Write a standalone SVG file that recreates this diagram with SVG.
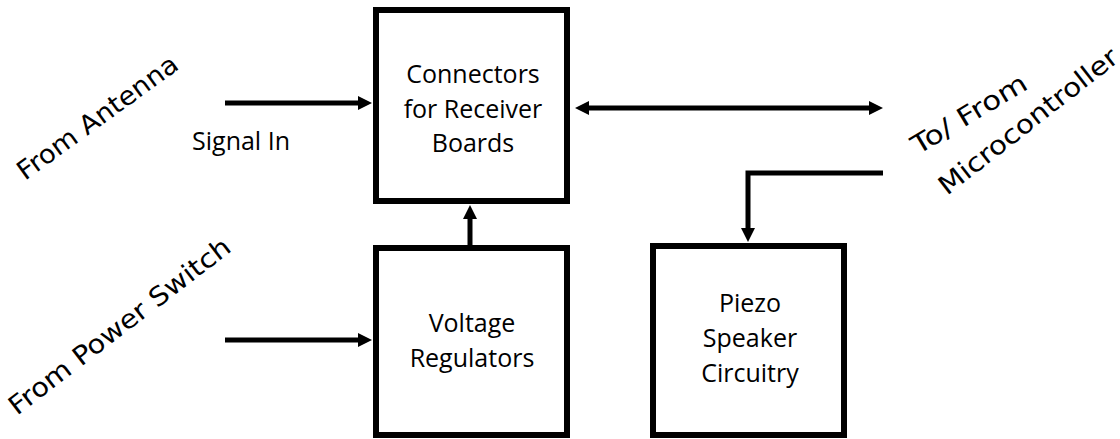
<svg xmlns="http://www.w3.org/2000/svg" width="1120" height="439" viewBox="0 0 1120 439">
<style>
.box{fill:#fff;stroke:#000;stroke-width:6}
.lbl{font-family:"Open Sans","Liberation Sans",sans-serif;font-size:25px;fill:#000;text-anchor:middle}
.side{font-family:"DejaVu Sans","Liberation Sans",sans-serif;font-size:26px;fill:#000}
.wire{fill:none;stroke:#000;stroke-width:5}
</style>
<defs>
<marker id="ah" viewBox="0 0 14 14" refX="4" refY="7" markerWidth="14" markerHeight="14" markerUnits="userSpaceOnUse" orient="auto-start-reverse">
<path d="M0,0 L14,7 L0,14 z" fill="#000"/>
</marker>
</defs>
<rect width="1120" height="439" fill="#fff"/>
<g id="connectors">
<line class="wire" x1="225" y1="103" x2="362" y2="103" marker-end="url(#ah)"/>
<line class="wire" x1="225" y1="340" x2="362" y2="340" marker-end="url(#ah)"/>
<line class="wire" x1="470" y1="245" x2="470" y2="215" marker-end="url(#ah)"/>
<line class="wire" x1="585" y1="108" x2="873" y2="108" marker-start="url(#ah)" marker-end="url(#ah)"/>
<polyline class="wire" points="883,173 748,173 748,232" marker-end="url(#ah)"/>
</g>
<g id="node-connectors">
<rect class="box" x="376" y="10" width="191" height="191"/>
<text class="lbl" x="473" y="83">Connectors</text>
<text class="lbl" x="473" y="118">for Receiver</text>
<text class="lbl" x="473" y="152">Boards</text>
</g>
<g id="node-voltage">
<rect class="box" x="376" y="248" width="191" height="187"/>
<text class="lbl" x="472" y="332">Voltage</text>
<text class="lbl" x="472" y="367">Regulators</text>
</g>
<g id="node-piezo">
<rect class="box" x="653" y="246" width="191" height="189"/>
<text class="lbl" x="750" y="312">Piezo</text>
<text class="lbl" x="750" y="347">Speaker</text>
<text class="lbl" x="750" y="382">Circuitry</text>
</g>
<g id="labels">
<text x="241" y="150" style="font-family:'Open Sans','Liberation Sans',sans-serif;font-size:25px;text-anchor:middle">Signal In</text>
<text class="side" transform="translate(25,181) rotate(-36)" textLength="192" lengthAdjust="spacingAndGlyphs">From Antenna</text>
<text class="side" transform="translate(17,416) rotate(-37.5)" textLength="272" lengthAdjust="spacingAndGlyphs">From Power Switch</text>
<text class="side" transform="translate(918,155) rotate(-31)" textLength="130" lengthAdjust="spacingAndGlyphs">To/ From</text>
<text class="side" transform="translate(947,196) rotate(-38)" textLength="220" lengthAdjust="spacingAndGlyphs">Microcontroller</text>
</g>
</svg>
